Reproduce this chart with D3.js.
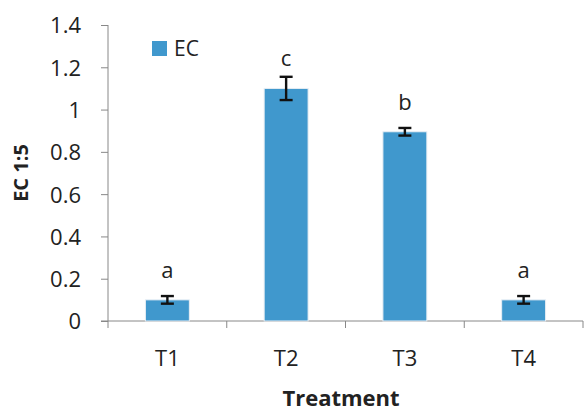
<!DOCTYPE html>
<html>
<head>
<meta charset="utf-8">
<script src="https://cdn.jsdelivr.net/npm/d3@7"></script>
<style>
  body { margin: 0; background: #fff; }
  text { font-family: "Open Sans", Lato, sans-serif; fill: #222; }
</style>
</head>
<body>
<script>
// data
var treatments = ["T1", "T2", "T3", "T4"];
var ecValues = [0.1, 1.1, 0.895, 0.1];
var ecErrors = [0.018, 0.055, 0.018, 0.018];
var letters = ["a", "c", "b", "a"];
var yTicks = [0, 0.2, 0.4, 0.6, 0.8, 1, 1.2, 1.4];

var width = 584, height = 412;
var margin = {left: 108, right: 1, top: 25, bottom: 91};

var svg = d3.select("body").append("svg")
  .attr("width", width)
  .attr("height", height);

var x = d3.scaleBand()
  .domain(treatments)
  .range([margin.left, width - margin.right])
  .paddingInner(0.63)
  .paddingOuter(0.315);

var y = d3.scaleLinear()
  .domain([0, 1.4])
  .range([height - margin.bottom, margin.top]);

// y axis
var yAxis = svg.append("g")
  .attr("transform", "translate(" + margin.left + ",0)")
  .call(d3.axisLeft(y).tickValues(yTicks).tickSize(7).tickPadding(20)
    .tickFormat(function (d) { return d3.format("")(+d.toFixed(1)); }));
yAxis.selectAll("text").style("font-size", "22px").attr("dy", "0.36em");
yAxis.selectAll("line, path").attr("stroke", "#888");
yAxis.select(".domain").attr("d", "M0," + y(1.4) + "V" + y(0));

// x axis with ticks between categories
var xg = svg.append("g")
  .attr("transform", "translate(0," + y(0) + ")");
xg.append("line")
  .attr("x1", margin.left - 7).attr("x2", width - margin.right)
  .attr("stroke", "#888");
var step = x.step();
var bounds = d3.range(treatments.length + 1).map(function (i) { return margin.left + i * step; });
xg.selectAll(".xt").data(bounds).enter().append("line")
  .attr("x1", d => d).attr("x2", d => d)
  .attr("y1", 0).attr("y2", 7)
  .attr("stroke", "#888");
xg.selectAll(".xl").data(treatments).enter().append("text")
  .attr("x", d => x(d) + x.bandwidth() / 2)
  .attr("y", 37)
  .attr("dy", "0.36em")
  .attr("text-anchor", "middle")
  .style("font-size", "22px")
  .text(d => d);

// bars
svg.selectAll(".bar").data(ecValues).enter().append("rect")
  .attr("x", (d, i) => x(treatments[i]))
  .attr("width", x.bandwidth())
  .attr("y", d => y(d))
  .attr("height", d => y(0) - y(d))
  .attr("fill", "#4098cd")
  .attr("stroke", "#e8eef4")
  .attr("stroke-width", 1);

// error bars
var eb = svg.selectAll(".err").data(ecValues).enter().append("g");
eb.append("line")
  .attr("x1", (d, i) => x(treatments[i]) + x.bandwidth() / 2)
  .attr("x2", (d, i) => x(treatments[i]) + x.bandwidth() / 2)
  .attr("y1", (d, i) => y(d + ecErrors[i]))
  .attr("y2", (d, i) => y(d - ecErrors[i]))
  .attr("stroke", "#111").attr("stroke-width", 2.4);
[1, -1].forEach(function (s) {
  eb.append("line")
    .attr("x1", (d, i) => x(treatments[i]) + x.bandwidth() / 2 - 6.5)
    .attr("x2", (d, i) => x(treatments[i]) + x.bandwidth() / 2 + 6.5)
    .attr("y1", (d, i) => y(d + s * ecErrors[i]))
    .attr("y2", (d, i) => y(d + s * ecErrors[i]))
    .attr("stroke", "#111").attr("stroke-width", 2.4);
});

// significance letters
svg.selectAll(".letter").data(letters).enter().append("text")
  .attr("x", (d, i) => x(treatments[i]) + x.bandwidth() / 2)
  .attr("y", (d, i) => y(ecValues[i]) - 22)
  .attr("text-anchor", "middle")
  .style("font-size", "22px")
  .text(d => d);

// legend
svg.append("rect")
  .attr("x", 152).attr("y", 41).attr("width", 15).attr("height", 15)
  .attr("fill", "#4098cd");
svg.append("text")
  .attr("x", 174).attr("y", 48).attr("dy", "0.36em")
  .style("font-size", "21px")
  .text("EC");

// axis titles
svg.append("text")
  .attr("transform", "translate(21," + 173 + ") rotate(-90)")
  .attr("text-anchor", "middle")
  .attr("dy", "0.36em")
  .style("font-size", "20px")
  .style("font-weight", "bold")
  .text("EC 1:5");

svg.append("text")
  .attr("x", 341).attr("y", 398).attr("dy", "0.36em")
  .attr("text-anchor", "middle")
  .style("font-size", "22px")
  .style("font-weight", "bold")
  .text("Treatment");
</script>
</body>
</html>
